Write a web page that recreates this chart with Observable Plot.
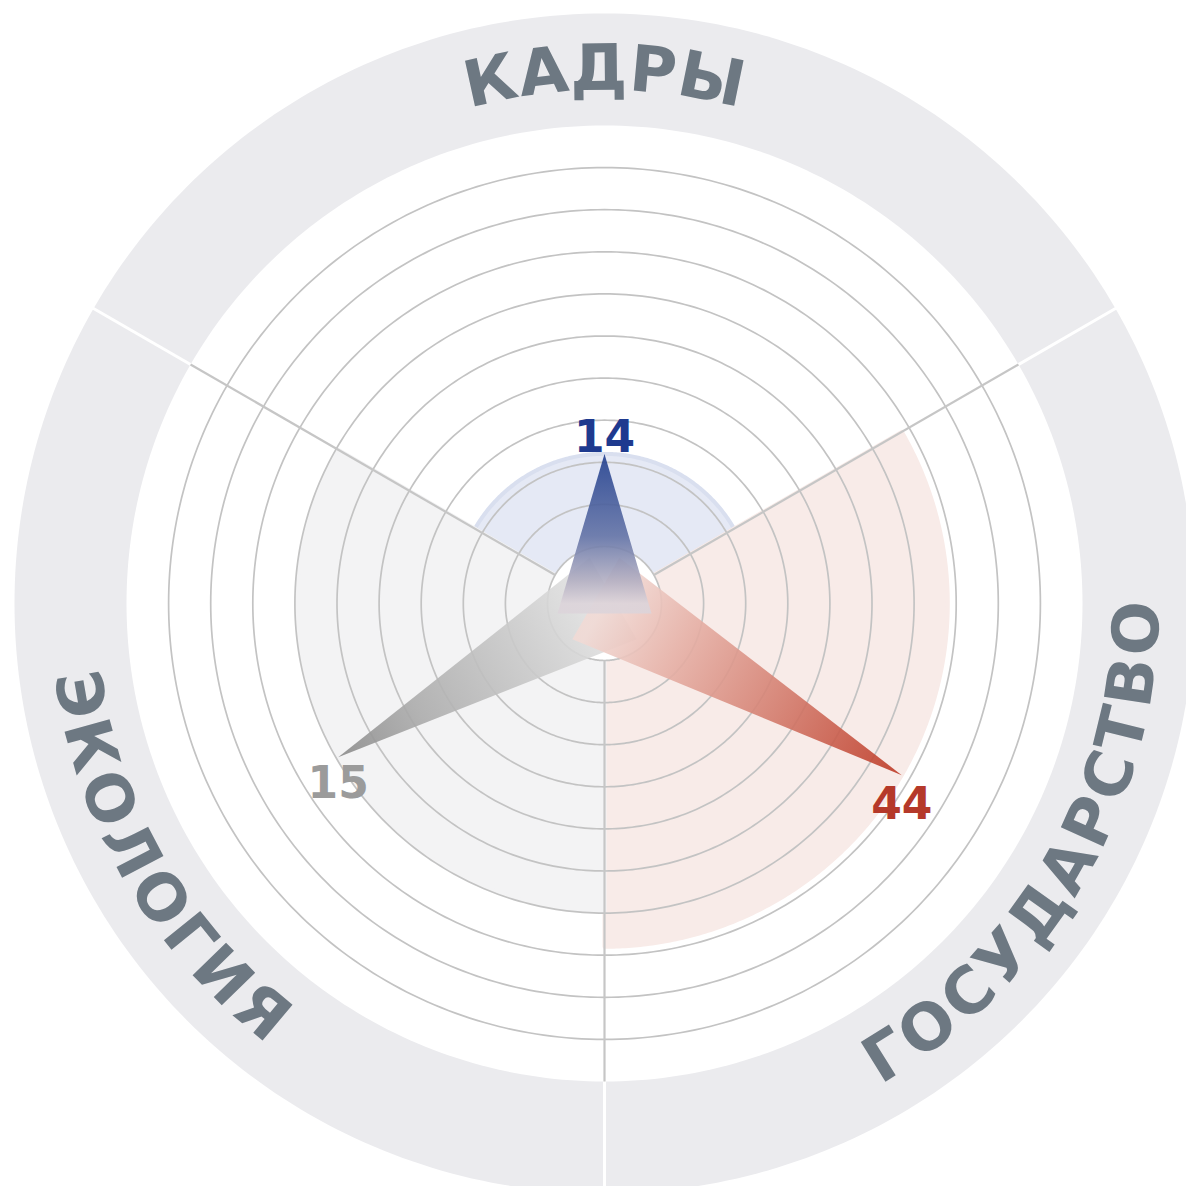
<!DOCTYPE html>
<html>
<head>
<meta charset="utf-8">
<script src="https://cdn.jsdelivr.net/npm/d3@7"></script>
<script src="https://cdn.jsdelivr.net/npm/@observablehq/plot@0.6"></script>
<style>
  html, body { margin: 0; padding: 0; background: #ffffff; }
  #chart { width: 1186px; height: 1186px; overflow: hidden; }
</style>
</head>
<body>
<div id="chart"></div>
<script>
// ---------------- data ----------------
const categories = ["КАДРЫ", "ГОСУДАРСТВО", "ЭКОЛОГИЯ"];
const values = [14, 44, 15];              // printed values
const levels = [2.2, 6.8, 5.95];          // spike length on the 0–10 ring scale
const ringTicks = [0, 1, 2, 3, 4, 5, 6, 7, 8, 9];
const scaleMax = 10;

// ---------------- styling ----------------
const W = 1186, H = 1186;
const CX = 604, CY = 603;                 // centre in pixels
const R0 = 57, R1 = 478, R2 = 590;        // hub, disk edge, band outer edge
const LABEL_R = 534, LABEL_SIZE = 64, LETTER_SP = 2.5;
const FONT = "DejaVu Sans";
const palette = {
  "КАДРЫ":       {shade: "#e5e9f5", rim: "#d9dfef", text: "#1e3a8f",
                  stops: [[0, "#dcd4da"], [0.15, "#b3afc2"], [0.45, "#6373a6"], [1, "#213f8e"]], dy: -16},
  "ГОСУДАРСТВО": {shade: "#f8ebe8", rim: "#f8ebe8", text: "#b5392a",
                  stops: [[0, "#f1dad5"], [0.25, "#e6b1a7"], [0.6, "#d37b6c"], [1, "#bd3925"]], dy: 30},
  "ЭКОЛОГИЯ":    {shade: "#f3f3f4", rim: "#f3f3f4", text: "#9b9b9b",
                  stops: [[0, "#e3e3e3"], [0.3, "#cbcbcb"], [0.7, "#acacac"], [1, "#8a8a8a"]], dy: 27}
};

// ---------------- geometry helpers ----------------
const n = categories.length;
const step = 360 / n;
const rad = d3.scaleLinear([0, scaleMax], [R0, R1]);
const toRad = d => d * Math.PI / 180;
const polar = (r, deg) => ({x: r * Math.sin(toRad(deg)), y: r * Math.cos(toRad(deg))});
const circle = (r, id) => d3.range(0, 360, 1).map(a => ({...polar(r, a), id}));
const arcPts = (r, a0, a1, id) => d3.range(a0, a1 + 0.001, 0.5).map(a => ({...polar(r, a), id}));

const cats = categories.map((c, i) => ({cat: c, value: values[i], level: levels[i], angle: i * step}));
const boundaries = cats.map(d => d.angle + step / 2);

// sector shade wedges
const wedges = cats.flatMap(d => [{x: 0, y: 0, id: d.cat}, ...arcPts(rad(d.level), d.angle - step / 2, d.angle + step / 2, d.cat)]);

// rings
const rings = ringTicks.flatMap(t => circle(rad(t), t));

// spikes
const HALF = 47, BACK = 10;
const spikes = cats.map(d => {
  const tip = polar(rad(d.level), d.angle);
  const back = polar(-BACK, d.angle);
  const p1 = polar(HALF, d.angle + 90), p2 = polar(HALF, d.angle - 90);
  return {cat: d.cat, tip, pts: [
    {x: tip.x, y: tip.y},
    {x: back.x + p1.x, y: back.y + p1.y},
    {x: back.x + p2.x, y: back.y + p2.y}
  ]};
});

// curved category labels
const ctx = document.createElement("canvas").getContext("2d");
ctx.font = `bold ${LABEL_SIZE}px "${FONT}"`;
function layoutLabel(text, centerDeg) {
  const concave = centerDeg > 90 && centerDeg < 270;
  const chars = Array.from(text);
  const widths = chars.map(c => ctx.measureText(c).width);
  const total = d3.sum(widths) + LETTER_SP * (chars.length - 1);
  let acc = 0;
  return chars.map((c, i) => {
    const mid = acc + widths[i] / 2;
    acc += widths[i] + LETTER_SP;
    const off = (mid - total / 2) / LABEL_R * 180 / Math.PI;
    const deg = concave ? centerDeg - off : centerDeg + off;
    const p = polar(LABEL_R, deg);
    return {ch: c, x: p.x, y: p.y, rot: concave ? deg - 180 : deg};
  });
}
const letters = cats.flatMap(d => layoutLabel(d.cat, d.angle));

// ---------------- plot ----------------
const marks = [
  Plot.line(circle(R2, "band"), {x: "x", y: "y", fill: "#ebebee", stroke: "none", curve: "linear-closed"}),
  Plot.link(boundaries, {
    x1: a => polar(R1 - 5, a).x, y1: a => polar(R1 - 5, a).y,
    x2: a => polar(R2 + 10, a).x, y2: a => polar(R2 + 10, a).y,
    stroke: "#ffffff", strokeWidth: 3
  }),
  Plot.line(circle(R1, "disk"), {x: "x", y: "y", fill: "#ffffff", stroke: "none", curve: "linear-closed"})
];
for (const d of cats) {
  marks.push(Plot.line(wedges.filter(w => w.id === d.cat), {
    x: "x", y: "y", fill: palette[d.cat].shade,
    stroke: palette[d.cat].rim, strokeWidth: 4, curve: "linear-closed"
  }));
}
marks.push(
  Plot.line(circle(R0, "hub"), {x: "x", y: "y", fill: "#ffffff", stroke: "none", curve: "linear-closed"}),
  Plot.line(rings, {x: "x", y: "y", z: "id", stroke: "#c3c3c3", strokeWidth: 1.7, curve: "linear-closed"}),
  Plot.link(boundaries, {
    x1: a => polar(R0, a).x, y1: a => polar(R0, a).y,
    x2: a => polar(R1, a).x, y2: a => polar(R1, a).y,
    stroke: "#c6c6c6", strokeWidth: 2.2
  })
);
// spikes: grey, red, then blue on top
for (const i of [2, 1, 0]) {
  const s = spikes[i];
  marks.push(Plot.line(s.pts, {x: "x", y: "y", fill: `url(#spike-${i})`, fillOpacity: 0.9, stroke: "none", curve: "linear-closed"}));
}
for (const d of cats) {
  const tip = polar(rad(d.level), d.angle);
  marks.push(Plot.text([{...tip, t: String(d.value)}], {
    x: "x", y: "y", text: "t", dy: palette[d.cat].dy,
    fill: palette[d.cat].text, fontSize: 44, fontWeight: "bold", fontFamily: FONT
  }));
}
marks.push(Plot.text(letters, {
  x: "x", y: "y", text: "ch", rotate: "rot",
  fill: "#6d7882", fontSize: LABEL_SIZE, fontWeight: "bold", fontFamily: FONT,
  textAnchor: "middle", lineAnchor: "middle"
}));

const svg = Plot.plot({
  width: W, height: H, margin: 0,
  x: {domain: [-CX, W - CX], axis: null},
  y: {domain: [CY - H, CY], axis: null},
  style: {background: "#ffffff", fontFamily: FONT, overflow: "hidden"},
  marks
});

// gradients along each spike (centre -> tip), in pixel space via the plot's scales
const sx = svg.scale("x"), sy = svg.scale("y");
const defs = d3.select(svg).insert("defs", ":first-child");
spikes.forEach((s, i) => {
  const g = defs.append("linearGradient")
    .attr("id", `spike-${i}`)
    .attr("gradientUnits", "userSpaceOnUse")
    .attr("x1", sx.apply(0)).attr("y1", sy.apply(0))
    .attr("x2", sx.apply(s.tip.x)).attr("y2", sy.apply(s.tip.y));
  for (const [o, c] of palette[s.cat].stops) g.append("stop").attr("offset", o).attr("stop-color", c);
});

document.getElementById("chart").appendChild(svg);
</script>
</body>
</html>
